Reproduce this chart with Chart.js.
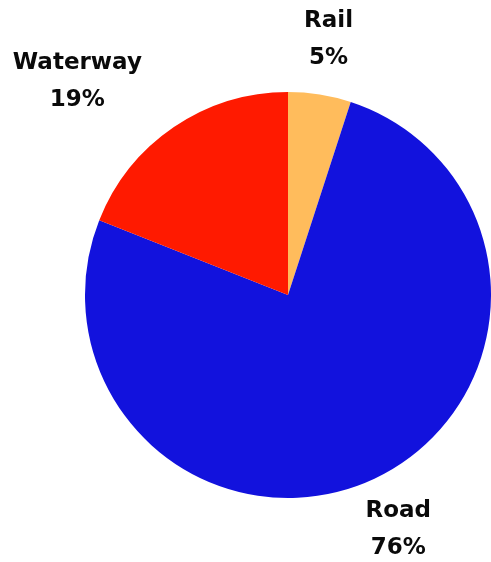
<!DOCTYPE html>
<html lang="en">
<head>
  <meta charset="UTF-8">
  <title>Freight by mode</title>
  <script src="https://cdn.jsdelivr.net/npm/chart.js"></script>
  <style>
    html, body { margin: 0; padding: 0; background: #fff; }
    .wrap { width: 491px; height: 562px; }
  </style>
</head>
<body>
<div class="wrap">
  <canvas id="grafico" width="491" height="562"></canvas>
</div>

<script>
  const modos = ['Rail', 'Road', 'Waterway'];
  const porcentajes = [5, 76, 19];
  const colores = ['#FFBC5C', '#1212DD', '#FF1A00'];

  // label placement: extra distance beyond the radius and angle tweak (deg)
  const etiquetaDist = [56, 56, 97];
  const etiquetaGiro = [0, 0, -10.4];

  const etiquetas = {
    id: 'etiquetas',
    afterDraw(chart) {
      const ctx = chart.ctx;
      const meta = chart.getDatasetMeta(0);
      ctx.save();
      ctx.font = 'bold 23px "DejaVu Sans", sans-serif';
      ctx.fillStyle = '#0a0a0a';
      ctx.textAlign = 'center';
      ctx.textBaseline = 'middle';
      meta.data.forEach((arc, i) => {
        const p = arc.getProps(['x', 'y', 'startAngle', 'endAngle', 'outerRadius'], true);
        const ang = (p.startAngle + p.endAngle) / 2 + etiquetaGiro[i] * Math.PI / 180;
        const d = p.outerRadius + etiquetaDist[i];
        const x = p.x + Math.cos(ang) * d;
        const y = p.y + Math.sin(ang) * d;
        ctx.fillText(modos[i], x, y - 18);
        ctx.fillText(porcentajes[i] + '%', x, y + 19);
      });
      ctx.restore();
    }
  };

  new Chart(document.getElementById('grafico').getContext('2d'), {
    type: 'pie',
    data: {
      labels: modos,
      datasets: [{
        data: porcentajes,
        backgroundColor: colores,
        borderWidth: 0
      }]
    },
    options: {
      responsive: false,
      animation: false,
      layout: { padding: { left: 85, right: 0, top: 92, bottom: 64 } },
      plugins: {
        legend: { display: false },
        tooltip: { enabled: false }
      }
    },
    plugins: [etiquetas]
  });
</script>
</body>
</html>
